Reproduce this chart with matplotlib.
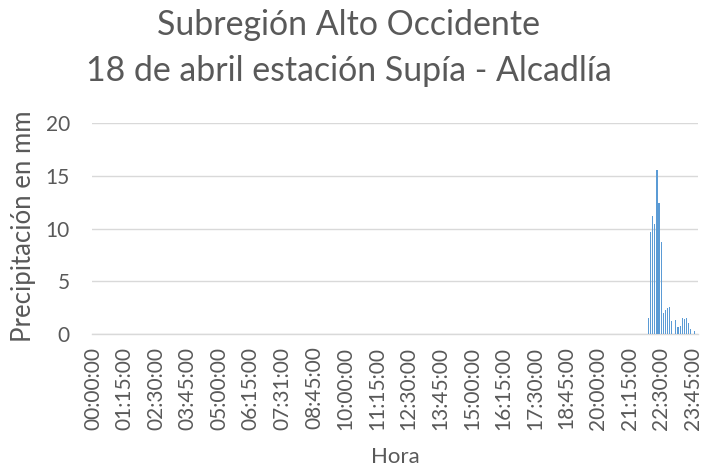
import numpy as np
import matplotlib.pyplot as plt

plt.rcParams['font.family'] = ['Lato', 'DejaVu Sans']

# 5-minute records for the whole day (one odd timestamp at 07:31)
horas = []
for h in range(24):
    for m in range(0, 60, 5):
        horas.append("%02d:%02d:00" % (h, m))
horas[90] = "07:31:00"

# rainfall (mm) from 22:00:00 to 23:55:00, zero before that
lluvia_desde = "22:00:00"
lluvia_mm = [1.5, 9.7, 11.2, 10.4, 15.5, 12.4, 8.7, 2.0, 2.3, 2.5, 2.6, 1.2,
             0.0, 1.3, 0.7, 0.8, 1.5, 1.4, 1.5, 1.05, 0.5, 0.0, 0.3, 0.0]

titulo_1 = "Subregión Alto Occidente"
titulo_2 = "18 de abril estación Supía - Alcadlía"
y_ticks = [0, 5, 10, 15, 20]


def main():
    valores = np.zeros(len(horas))
    i0 = horas.index(lluvia_desde)
    valores[i0:i0 + len(lluvia_mm)] = lluvia_mm

    fig = plt.figure(figsize=(7.02, 4.73), dpi=100)
    ax = fig.add_axes([92 / 702, 1 - 334 / 473, 606 / 702, 211 / 473])

    x = np.arange(len(horas))
    ax.bar(x, valores, width=0.55, color='#5B9BD5', zorder=3)

    ax.set_xlim(-0.5, len(horas) - 0.5)
    ax.set_ylim(0, 20)
    ax.set_yticks(y_ticks)
    ax.grid(axis='y', color='#D9D9D9', linewidth=1, zorder=0)
    for s in ['top', 'right', 'left']:
        ax.spines[s].set_visible(False)
    ax.spines['bottom'].set_color('#D9D9D9')
    ax.spines['bottom'].set_linewidth(1)

    tick_pos = x[::15]
    ax.set_xticks(tick_pos)
    ax.set_xticklabels([horas[i] for i in tick_pos], rotation=90,
                       fontsize=15, color='#595959')
    ax.tick_params(axis='x', length=0, pad=9)
    ax.tick_params(axis='y', length=0, pad=16, labelsize=15, labelcolor='#595959')

    ax.set_xlabel("Hora", fontsize=16, color='#595959')
    ax.xaxis.set_label_coords(0.5, -0.535)
    ax.set_ylabel("Precipitación en mm", fontsize=18.5, color='#595959')
    ax.yaxis.set_label_coords(-0.092, 0.51)

    # title in two lines, as in the original chart
    fig.text(0.497, 1 - 35 / 473, titulo_1, ha='center', va='baseline',
             fontsize=24.4, color='#595959')
    fig.text(0.497, 1 - 81 / 473, titulo_2, ha='center', va='baseline',
             fontsize=24.4, color='#595959')

    fig.savefig('out.png', dpi=100)


if __name__ == "__main__":
    main()
